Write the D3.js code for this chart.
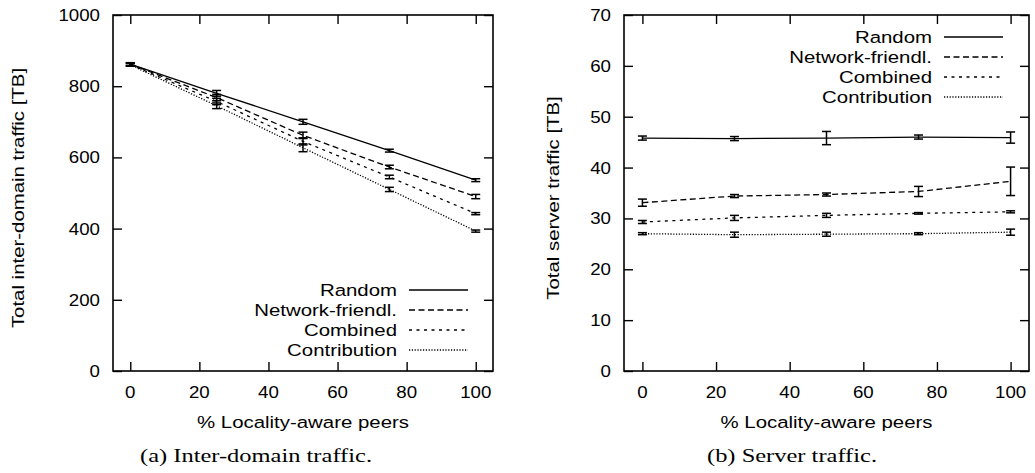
<!DOCTYPE html>
<html><head><meta charset="utf-8">
<script src="https://cdn.jsdelivr.net/npm/d3@7"></script>
<style>body{margin:0;background:#fff}svg{display:block}</style>
</head><body>
<svg id="c" width="1035" height="473"></svg>
<script>
const xValues = [0, 25, 50, 75, 100];
const seriesNames = ["Random", "Network-friendl.", "Combined", "Contribution"];
const xTicks = [0, 20, 40, 60, 80, 100];

// (a) Inter-domain traffic [TB]
const interRandom = [862, 780, 700, 619, 536];
const interNetwork = [862, 768, 662, 573, 490];
const interCombined = [861, 757, 645, 545, 442];
const interContribution = [860, 745, 627, 510, 393];
const interRandomErr = [4, 8, 7, 4, 4];
const interNetworkErr = [4, 9, 9, 5, 6];
const interCombinedErr = [4, 9, 10, 5, 3];
const interContributionErr = [4, 8, 11, 6, 3];
const interYTicks = [0, 200, 400, 600, 800, 1000];

// (b) Server traffic [TB]
const srvRandom = [45.8, 45.7, 45.8, 46.0, 45.9];
const srvNetwork = [33.1, 34.4, 34.7, 35.3, 37.3];
const srvCombined = [29.3, 30.1, 30.6, 31.0, 31.3];
const srvContribution = [27.0, 26.8, 26.9, 27.0, 27.3];
const srvRandomErr = [0.4, 0.4, 1.3, 0.4, 1.1];
const srvNetworkErr = [0.7, 0.3, 0.3, 1.0, 2.8];
const srvCombinedErr = [0.3, 0.5, 0.4, 0.15, 0.2];
const srvContributionErr = [0.2, 0.5, 0.4, 0.2, 0.6];
const srvYTicks = [0, 10, 20, 30, 40, 50, 60, 70];

const dashes = [null, "6,3.5", "3,4.5", "1.2,1.6"];
const svg = d3.select("#c");
const FONT = "'Liberation Sans', Arial, sans-serif";
const SERIF = "'Liberation Serif', 'Times New Roman', serif";

function txt(g, x, y, s, opts) {
  const o = Object.assign({anchor: "middle", size: 17, sx: 1.2, rot: 0, family: FONT}, opts);
  return g.append("text")
    .attr("transform", `translate(${x},${y}) rotate(${o.rot}) scale(${o.sx},1)`)
    .attr("text-anchor", o.anchor).attr("font-family", o.family)
    .attr("font-size", o.size).attr("fill", "#000").text(s);
}

function panel(o) {
  const g = svg.append("g");
  const x = d3.scaleLinear().domain([-5, 105]).range([o.left, o.right]);
  const y = d3.scaleLinear().domain([0, o.ymax]).range([o.bottom, o.top]);
  const tl = 9;
  const gx = g.append("g").attr("transform", `translate(0,${o.bottom})`)
    .call(d3.axisTop(x).tickValues(xTicks).tickSize(tl).tickFormat(""));
  const gx2 = g.append("g").attr("transform", `translate(0,${o.top})`)
    .call(d3.axisBottom(x).tickValues(xTicks).tickSize(tl).tickFormat(""));
  const gy = g.append("g").attr("transform", `translate(${o.left},0)`)
    .call(d3.axisRight(y).tickValues(o.yTicks).tickSize(tl).tickFormat(""));
  const gy2 = g.append("g").attr("transform", `translate(${o.right},0)`)
    .call(d3.axisLeft(y).tickValues(o.yTicks).tickSize(tl).tickFormat(""));
  [gx, gx2, gy, gy2].forEach(a => {
    a.select(".domain").remove();
    a.selectAll("line").attr("stroke", "#000").attr("stroke-width", 1.4);
  });
  // tick labels
  xTicks.forEach(d => txt(g, x(d), o.bottom + 27, d, {sx: 1.1}));
  o.yTicks.forEach(d => txt(g, o.left - 13, y(d) + 6, d, {sx: 1.1, anchor: "end"}));
  // frame
  g.append("rect").attr("x", o.left).attr("y", o.top)
    .attr("width", o.right - o.left).attr("height", o.bottom - o.top)
    .attr("fill", "none").attr("stroke", "#000").attr("stroke-width", 1.6);
  // axis titles
  txt(g, (o.left + o.right) / 2, o.bottom + 57, "% Locality-aware peers");
  txt(g, o.ytitleX, (o.top + o.bottom) / 2 + 5, o.ytitle, {rot: -90, sx: 1.2});
  // caption
  txt(g, o.capX, o.bottom + 91, o.caption, {family: SERIF, size: 18, sx: 1.36});
  // series
  const line = d3.line().x((d, i) => x(xValues[i])).y(d => y(d));
  o.series.forEach((s, k) => {
    g.append("path").attr("d", line(s.v)).attr("fill", "none")
      .attr("stroke", "#000").attr("stroke-width", 1.3)
      .attr("stroke-dasharray", dashes[k]);
    s.v.forEach((v, i) => {
      const cx = x(xValues[i]), e = s.e[i];
      const y1 = y(v - e), y2 = y(v + e);
      g.append("line").attr("x1", cx).attr("x2", cx).attr("y1", y1).attr("y2", y2)
        .attr("stroke", "#000").attr("stroke-width", 1.5);
      [y1, y2].forEach(yy => g.append("line").attr("x1", cx - 4.5).attr("x2", cx + 4.5)
        .attr("y1", yy).attr("y2", yy).attr("stroke", "#000").attr("stroke-width", 1.5));
    });
  });
  // legend
  seriesNames.forEach((n, k) => {
    const ly = o.legY + k * 20;
    txt(g, o.legX, ly + 6, n, {anchor: "end"});
    g.append("line").attr("x1", o.legX + 12).attr("x2", o.legX + 71)
      .attr("y1", ly).attr("y2", ly).attr("stroke", "#000").attr("stroke-width", 1.3)
      .attr("stroke-dasharray", dashes[k]);
  });
}

panel({
  left: 113, right: 493, top: 15, bottom: 371, ymax: 1000, yTicks: interYTicks,
  ytitle: "Total inter-domain traffic [TB]", ytitleX: 24, capX: 256,
  caption: "(a) Inter-domain traffic.", legX: 397, legY: 290,
  series: [
    {v: interRandom, e: interRandomErr},
    {v: interNetwork, e: interNetworkErr},
    {v: interCombined, e: interCombinedErr},
    {v: interContribution, e: interContributionErr}
  ]
});
panel({
  left: 624, right: 1029, top: 15, bottom: 371, ymax: 70, yTicks: srvYTicks,
  ytitle: "Total server traffic [TB]", ytitleX: 559, capX: 792,
  caption: "(b) Server traffic.", legX: 932, legY: 37,
  series: [
    {v: srvRandom, e: srvRandomErr},
    {v: srvNetwork, e: srvNetworkErr},
    {v: srvCombined, e: srvCombinedErr},
    {v: srvContribution, e: srvContributionErr}
  ]
});
</script>
</body></html>
